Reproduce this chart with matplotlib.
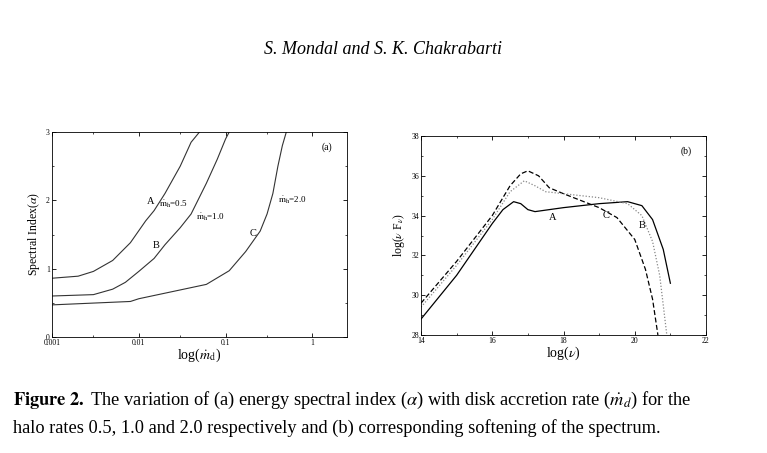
import matplotlib
matplotlib.use('Agg')
import matplotlib.pyplot as plt
from matplotlib.ticker import MultipleLocator, FixedLocator, NullFormatter

plt.rcParams['font.family'] = ['Liberation Serif', 'DejaVu Serif']
plt.rcParams['mathtext.fontset'] = 'stix'

# panel (a): spectral index vs disk accretion rate
a_x = [0.001, 0.002, 0.003, 0.005, 0.008, 0.012, 0.015, 0.02, 0.03, 0.04, 0.05]
a_y = [0.86, 0.89, 0.96, 1.12, 1.38, 1.70, 1.85, 2.10, 2.50, 2.85, 3.00]
b_x = [0.001, 0.003, 0.005, 0.007, 0.01, 0.015, 0.02, 0.03, 0.04, 0.06, 0.08, 0.1, 0.11]
b_y = [0.60, 0.62, 0.70, 0.80, 0.96, 1.15, 1.35, 1.60, 1.80, 2.25, 2.60, 2.90, 3.00]
c_x = [0.001, 0.008, 0.01, 0.06, 0.11, 0.17, 0.25, 0.3, 0.35, 0.4, 0.45, 0.5]
c_y = [0.47, 0.52, 0.56, 0.77, 0.97, 1.25, 1.55, 1.80, 2.10, 2.50, 2.80, 3.00]

# panel (b): spectra
sa_x = [14, 15, 15.5, 16, 16.3, 16.6, 16.8, 17, 17.2, 18, 19, 19.8, 20.2, 20.5, 20.8, 21]
sa_y = [28.8, 31.0, 32.3, 33.6, 34.3, 34.7, 34.6, 34.3, 34.2, 34.4, 34.6, 34.7, 34.5, 33.8, 32.3, 30.6]
sc_x = [14, 15, 16, 16.5, 16.8, 17, 17.3, 17.6, 18, 19, 19.5, 20, 20.3, 20.5, 20.65]
sc_y = [29.6, 31.7, 34.0, 35.5, 36.1, 36.25, 36.0, 35.4, 35.1, 34.4, 33.9, 32.8, 31.3, 29.8, 28.0]
sb_x = [14, 15, 16, 16.5, 16.9, 17.2, 17.5, 18, 19, 19.8, 20.2, 20.5, 20.7, 20.9]
sb_y = [29.4, 31.5, 33.8, 35.2, 35.75, 35.5, 35.2, 35.1, 34.9, 34.6, 34.0, 32.7, 31.0, 28.0]

fig = plt.figure(figsize=(7.67, 4.53), dpi=100)
fig.text(0.5, 0.88, 'S. Mondal and S. K. Chakrabarti', ha='center', fontsize=13, style='italic')

ax1 = fig.add_axes([52/767, 1-337/453, 295/767, 205/453])
ax1.plot(a_x, a_y, color='#333333', lw=0.8)
ax1.plot(b_x, b_y, color='#333333', lw=0.8)
ax1.plot(c_x, c_y, color='#333333', lw=0.8)
ax1.set_xscale('log')
ax1.set_xlim(0.001, 2.5)
ax1.set_ylim(0, 3)
ax1.yaxis.set_major_locator(MultipleLocator(1))
ax1.yaxis.set_minor_locator(MultipleLocator(0.5))
ax1.xaxis.set_major_locator(FixedLocator([0.001, 0.01, 0.1, 1]))
ax1.set_xticklabels(['0.001', '0.01', '0.1', '1'])
ax1.xaxis.set_minor_locator(FixedLocator([0.003, 0.03, 0.3]))
ax1.xaxis.set_minor_formatter(NullFormatter())
ax1.set_xlabel(r'log($\dot{m}_{\rm d}$)', fontsize=10, labelpad=0)
ax1.set_ylabel(r'Spectral Index($\alpha$)', fontsize=8.5, labelpad=3)
ax1.text(0.95, 0.95, '(a)', transform=ax1.transAxes, ha='right', va='top', fontsize=7)
ax1.text(0.0125, 1.95, 'A', fontsize=7.5)
ax1.text(0.017, 1.9, r'$\dot{\rm m}_{\rm h}$=0.5', fontsize=6.5)
ax1.text(0.0145, 1.3, 'B', fontsize=7.5)
ax1.text(0.045, 1.72, r'$\dot{\rm m}_{\rm h}$=1.0', fontsize=6.5)
ax1.text(0.19, 1.48, 'C', fontsize=7.5)
ax1.text(0.4, 1.97, r'$\dot{\rm m}_{\rm h}$=2.0', fontsize=6.5)

ax2 = fig.add_axes([421/767, 1-335/453, 285/767, 199/453])
ax2.plot(sa_x, sa_y, color='black', lw=0.9)
ax2.plot(sc_x, sc_y, color='black', lw=0.9, ls=(0, (4, 2)))
ax2.plot(sb_x, sb_y, color='#888888', lw=0.9, ls=(0, (1, 1.5)))
ax2.set_xlim(14, 22)
ax2.set_ylim(28, 38)
ax2.xaxis.set_major_locator(MultipleLocator(2))
ax2.xaxis.set_minor_locator(MultipleLocator(1))
ax2.yaxis.set_major_locator(MultipleLocator(2))
ax2.yaxis.set_minor_locator(MultipleLocator(1))
ax2.set_xlabel(r'log($\nu$)', fontsize=10, labelpad=0)
ax2.set_ylabel(r'log($\nu$ F$_\nu$)', fontsize=8.5, labelpad=3)
ax2.text(0.95, 0.95, '(b)', transform=ax2.transAxes, ha='right', va='top', fontsize=7)
ax2.text(17.6, 33.8, 'A', fontsize=7.5)
ax2.text(19.1, 33.9, 'C', fontsize=7.5)
ax2.text(20.1, 33.4, 'B', fontsize=7.5)

for ax in (ax1, ax2):
    ax.tick_params(which='both', direction='in', top=True, right=True, labelsize=5.5, pad=1.5)
    ax.tick_params(which='major', length=3, width=0.6)
    ax.tick_params(which='minor', length=1.5, width=0.5)
    for s in ax.spines.values():
        s.set_linewidth(0.6)

fig.text(0.017, 0.105, r'$\bf{Figure\ 2.}$ The variation of (a) energy spectral index ($\alpha$) with disk accretion rate ($\dot{m}_d$) for the',
         fontsize=13.2)
fig.text(0.017, 0.045, 'halo rates 0.5, 1.0 and 2.0 respectively and (b) corresponding softening of the spectrum.',
         fontsize=13.2)

fig.savefig('out.png', dpi=100)
